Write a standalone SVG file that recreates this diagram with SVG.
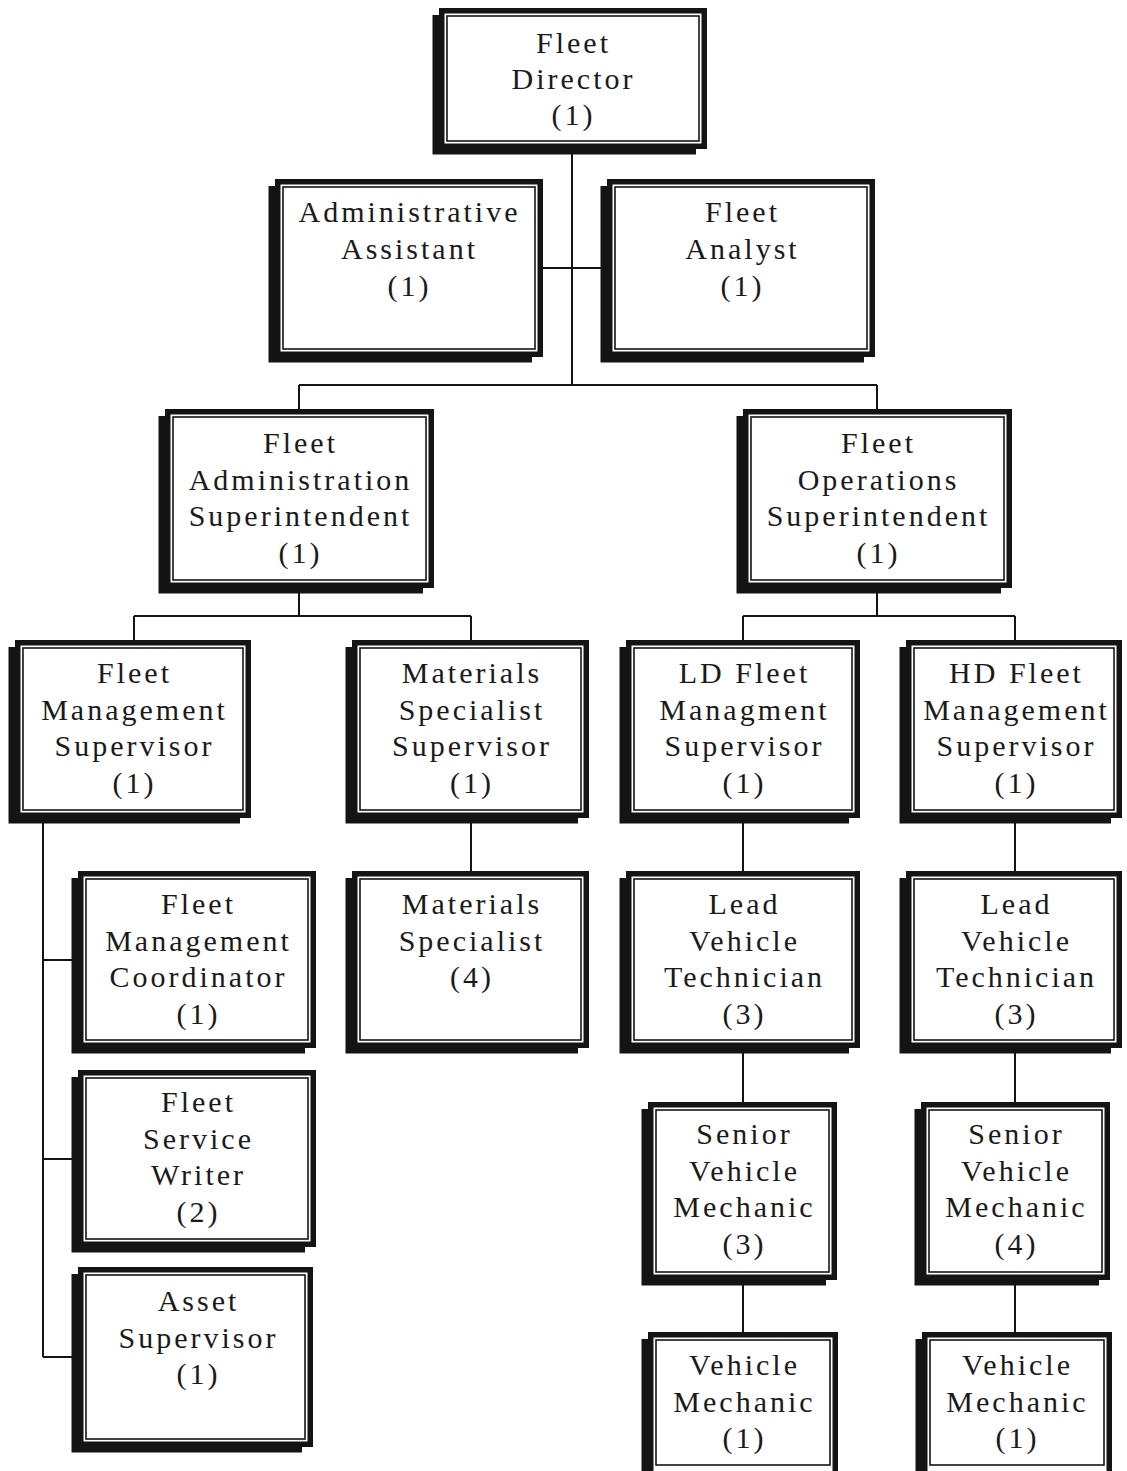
<svg xmlns="http://www.w3.org/2000/svg" width="1127" height="1471" viewBox="0 0 1127 1471">
<style>
.sh{fill:#141414}
.ob{fill:#fff;stroke:#141414;stroke-width:5.5}
.ib{fill:none;stroke:#141414;stroke-width:1.6}
.t{font-family:"Liberation Serif","Times New Roman",serif;font-size:30px;letter-spacing:3px;fill:#1a1a1a;text-anchor:middle}
.c{fill:none;stroke:#141414;stroke-width:2}
</style>
<rect width="1127" height="1471" fill="#fff"/>
<g id="connectors">
<path class="c" d="M572 149V385M543 268H607M299 385H877M299 385V409M877 385V409"/>
<path class="c" d="M299 588V616M134 616H471M134 616V640M471 616V640"/>
<path class="c" d="M877 588V616M743 616H1015M743 616V640M1015 616V640"/>
<path class="c" d="M43 818V1357M43 960H78M43 1159H78M43 1357H78"/>
<path class="c" d="M471 818V871"/>
<path class="c" d="M743 818V871M743 1048V1102M743 1280V1332"/>
<path class="c" d="M1015 818V871M1015 1048V1102M1015 1280V1332"/>
</g>
<g id="fleet-director">
<rect class="sh" x="432.5" y="15" width="263.5" height="139.5"/>
<rect class="ob" x="441.75" y="10.75" width="262.5" height="135.5"/>
<rect class="ib" x="447" y="16" width="252" height="125"/>
<text class="t" y="53"><tspan x="573.5">Fleet</tspan><tspan x="573.5" dy="36">Director</tspan><tspan x="573.5" dy="36">(1)</tspan></text>
</g>
<g id="administrative-assistant">
<rect class="sh" x="268.5" y="186" width="263.5" height="176.5"/>
<rect class="ob" x="277.75" y="181.75" width="262.5" height="172.5"/>
<rect class="ib" x="283" y="187" width="252" height="162"/>
<text class="t" y="222"><tspan x="409.5">Administrative</tspan><tspan x="409.5" dy="37">Assistant</tspan><tspan x="409.5" dy="37">(1)</tspan></text>
</g>
<g id="fleet-analyst">
<rect class="sh" x="600.5" y="186" width="263.5" height="176.5"/>
<rect class="ob" x="609.75" y="181.75" width="262.5" height="172.5"/>
<rect class="ib" x="615" y="187" width="252" height="162"/>
<text class="t" y="222"><tspan x="742.5">Fleet</tspan><tspan x="742.5" dy="37">Analyst</tspan><tspan x="742.5" dy="37">(1)</tspan></text>
</g>
<g id="fleet-administration-superintendent">
<rect class="sh" x="158.5" y="416" width="264.5" height="177.5"/>
<rect class="ob" x="167.75" y="411.75" width="263.5" height="173.5"/>
<rect class="ib" x="173" y="417" width="253" height="163"/>
<text class="t" y="453"><tspan x="300.5">Fleet</tspan><tspan x="300.5" dy="36.5">Administration</tspan><tspan x="300.5" dy="36.5">Superintendent</tspan><tspan x="300.5" dy="36.5">(1)</tspan></text>
</g>
<g id="fleet-operations-superintendent">
<rect class="sh" x="736.5" y="416" width="264.5" height="177.5"/>
<rect class="ob" x="745.75" y="411.75" width="263.5" height="173.5"/>
<rect class="ib" x="751" y="417" width="253" height="163"/>
<text class="t" y="453"><tspan x="878.5">Fleet</tspan><tspan x="878.5" dy="36.5">Operations</tspan><tspan x="878.5" dy="36.5">Superintendent</tspan><tspan x="878.5" dy="36.5">(1)</tspan></text>
</g>
<g id="fleet-management-supervisor">
<rect class="sh" x="8.5" y="647" width="231.5" height="176.5"/>
<rect class="ob" x="17.75" y="642.75" width="230.5" height="172.5"/>
<rect class="ib" x="23" y="648" width="220" height="162"/>
<text class="t" y="683"><tspan x="134.5">Fleet</tspan><tspan x="134.5" dy="36.5">Management</tspan><tspan x="134.5" dy="36.5">Supervisor</tspan><tspan x="134.5" dy="36.5">(1)</tspan></text>
</g>
<g id="materials-specialist-supervisor">
<rect class="sh" x="345.5" y="647" width="232.5" height="176.5"/>
<rect class="ob" x="354.75" y="642.75" width="231.5" height="172.5"/>
<rect class="ib" x="360" y="648" width="221" height="162"/>
<text class="t" y="683"><tspan x="472">Materials</tspan><tspan x="472" dy="36.5">Specialist</tspan><tspan x="472" dy="36.5">Supervisor</tspan><tspan x="472" dy="36.5">(1)</tspan></text>
</g>
<g id="ld-fleet-managment-supervisor">
<rect class="sh" x="619.5" y="647" width="229.5" height="176.5"/>
<rect class="ob" x="628.75" y="642.75" width="228.5" height="172.5"/>
<rect class="ib" x="634" y="648" width="218" height="162"/>
<text class="t" y="683"><tspan x="744.5">LD Fleet</tspan><tspan x="744.5" dy="36.5">Managment</tspan><tspan x="744.5" dy="36.5">Supervisor</tspan><tspan x="744.5" dy="36.5">(1)</tspan></text>
</g>
<g id="hd-fleet-management-supervisor">
<rect class="sh" x="899.5" y="647" width="211.5" height="176.5"/>
<rect class="ob" x="908.75" y="642.75" width="210.5" height="172.5"/>
<rect class="ib" x="914" y="648" width="200" height="162"/>
<text class="t" y="683"><tspan x="1016.5">HD Fleet</tspan><tspan x="1016.5" dy="36.5">Management</tspan><tspan x="1016.5" dy="36.5">Supervisor</tspan><tspan x="1016.5" dy="36.5">(1)</tspan></text>
</g>
<g id="fleet-management-coordinator">
<rect class="sh" x="71.5" y="878" width="233.5" height="175.5"/>
<rect class="ob" x="80.75" y="873.75" width="232.5" height="171.5"/>
<rect class="ib" x="86" y="879" width="222" height="161"/>
<text class="t" y="914"><tspan x="198.5">Fleet</tspan><tspan x="198.5" dy="36.5">Management</tspan><tspan x="198.5" dy="36.5">Coordinator</tspan><tspan x="198.5" dy="36.5">(1)</tspan></text>
</g>
<g id="materials-specialist">
<rect class="sh" x="345.5" y="878" width="232.5" height="175.5"/>
<rect class="ob" x="354.75" y="873.75" width="231.5" height="171.5"/>
<rect class="ib" x="360" y="879" width="221" height="161"/>
<text class="t" y="914"><tspan x="472">Materials</tspan><tspan x="472" dy="36.5">Specialist</tspan><tspan x="472" dy="36.5">(4)</tspan></text>
</g>
<g id="ld-lead-vehicle-technician">
<rect class="sh" x="619.5" y="878" width="229.5" height="175.5"/>
<rect class="ob" x="628.75" y="873.75" width="228.5" height="171.5"/>
<rect class="ib" x="634" y="879" width="218" height="161"/>
<text class="t" y="914"><tspan x="744.5">Lead</tspan><tspan x="744.5" dy="36.5">Vehicle</tspan><tspan x="744.5" dy="36.5">Technician</tspan><tspan x="744.5" dy="36.5">(3)</tspan></text>
</g>
<g id="hd-lead-vehicle-technician">
<rect class="sh" x="899.5" y="878" width="211.5" height="175.5"/>
<rect class="ob" x="908.75" y="873.75" width="210.5" height="171.5"/>
<rect class="ib" x="914" y="879" width="200" height="161"/>
<text class="t" y="914"><tspan x="1016.5">Lead</tspan><tspan x="1016.5" dy="36.5">Vehicle</tspan><tspan x="1016.5" dy="36.5">Technician</tspan><tspan x="1016.5" dy="36.5">(3)</tspan></text>
</g>
<g id="fleet-service-writer">
<rect class="sh" x="71.5" y="1077" width="233.5" height="175.5"/>
<rect class="ob" x="80.75" y="1072.75" width="232.5" height="171.5"/>
<rect class="ib" x="86" y="1078" width="222" height="161"/>
<text class="t" y="1112"><tspan x="198.5">Fleet</tspan><tspan x="198.5" dy="36.5">Service</tspan><tspan x="198.5" dy="36.5">Writer</tspan><tspan x="198.5" dy="36.5">(2)</tspan></text>
</g>
<g id="ld-senior-vehicle-mechanic">
<rect class="sh" x="641.5" y="1109" width="184.5" height="176.5"/>
<rect class="ob" x="650.75" y="1104.75" width="183.5" height="172.5"/>
<rect class="ib" x="656" y="1110" width="173" height="162"/>
<text class="t" y="1144"><tspan x="744.5">Senior</tspan><tspan x="744.5" dy="36.5">Vehicle</tspan><tspan x="744.5" dy="36.5">Mechanic</tspan><tspan x="744.5" dy="36.5">(3)</tspan></text>
</g>
<g id="hd-senior-vehicle-mechanic">
<rect class="sh" x="914.5" y="1109" width="184.5" height="176.5"/>
<rect class="ob" x="923.75" y="1104.75" width="183.5" height="172.5"/>
<rect class="ib" x="929" y="1110" width="173" height="162"/>
<text class="t" y="1144"><tspan x="1016.5">Senior</tspan><tspan x="1016.5" dy="36.5">Vehicle</tspan><tspan x="1016.5" dy="36.5">Mechanic</tspan><tspan x="1016.5" dy="36.5">(4)</tspan></text>
</g>
<g id="asset-supervisor">
<rect class="sh" x="71.5" y="1274" width="230.5" height="178.5"/>
<rect class="ob" x="80.75" y="1269.75" width="229.5" height="174.5"/>
<rect class="ib" x="86" y="1275" width="219" height="164"/>
<text class="t" y="1311"><tspan x="198.5">Asset</tspan><tspan x="198.5" dy="36.5">Supervisor</tspan><tspan x="198.5" dy="36.5">(1)</tspan></text>
</g>
<g id="ld-vehicle-mechanic">
<rect class="sh" x="641.5" y="1339" width="185.5" height="150"/>
<rect class="ob" x="650.75" y="1334.75" width="184.5" height="150"/>
<rect class="ib" x="656" y="1340" width="174" height="125"/>
<text class="t" y="1375"><tspan x="744.5">Vehicle</tspan><tspan x="744.5" dy="36.5">Mechanic</tspan><tspan x="744.5" dy="36.5">(1)</tspan></text>
</g>
<g id="hd-vehicle-mechanic">
<rect class="sh" x="915.5" y="1339" width="185.5" height="150"/>
<rect class="ob" x="924.75" y="1334.75" width="184.5" height="150"/>
<rect class="ib" x="930" y="1340" width="174" height="125"/>
<text class="t" y="1375"><tspan x="1017.5">Vehicle</tspan><tspan x="1017.5" dy="36.5">Mechanic</tspan><tspan x="1017.5" dy="36.5">(1)</tspan></text>
</g>
</svg>
